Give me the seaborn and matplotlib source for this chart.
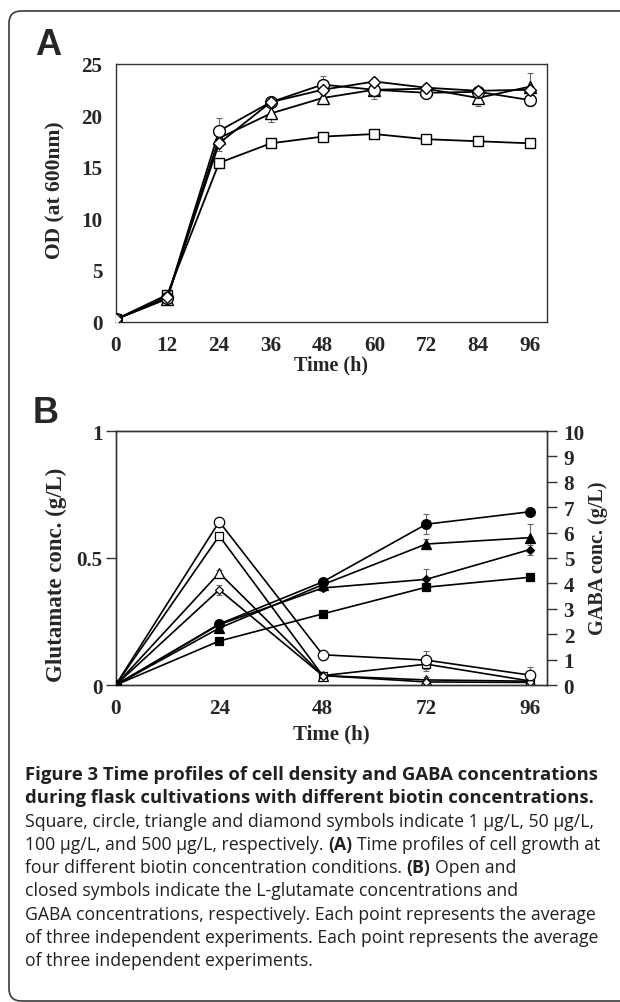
import numpy as np
import pandas as pd
import matplotlib
matplotlib.use("Agg")
import matplotlib.pyplot as plt
import seaborn as sns
from matplotlib.patches import FancyBboxPatch

# ---------------- data ----------------
time_a = [0, 12, 24, 36, 48, 60, 72, 84, 96]
od_square = [0.2, 2.6, 15.4, 17.3, 17.95, 18.2, 17.7, 17.5, 17.3]
od_circle = [0.2, 2.3, 18.5, 21.3, 23.0, 22.5, 22.2, 22.3, 21.5]
od_triangle = [0.2, 2.2, 17.8, 20.2, 21.7, 22.5, 22.6, 21.7, 22.8]
od_diamond = [0.2, 2.4, 17.3, 21.3, 22.5, 23.3, 22.7, 22.4, 22.5]
od_square_err = [0.1, 0.3, 0.4, 0.3, 0.3, 0.3, 0.3, 0.4, 0.3]
od_circle_err = [0.1, 0.6, 1.3, 0.5, 0.8, 0.3, 0.4, 0.3, 0.6]
od_triangle_err = [0.1, 0.5, 0.6, 0.8, 0.6, 0.9, 0.5, 0.8, 1.3]
od_diamond_err = [0.1, 0.4, 0.7, 0.5, 0.4, 0.3, 0.3, 0.3, 0.3]

time_b = [0, 24, 48, 72, 96]
glu_square = [0.0, 0.587, 0.037, 0.082, 0.016]
glu_circle = [0.0, 0.643, 0.119, 0.098, 0.039]
glu_triangle = [0.0, 0.441, 0.037, 0.02, 0.015]
glu_diamond = [0.0, 0.375, 0.037, 0.012, 0.01]
glu_square_err = [0.0, 0.01, 0.01, 0.025, 0.005]
glu_circle_err = [0.0, 0.005, 0.015, 0.035, 0.03]
glu_triangle_err = [0.0, 0.012, 0.01, 0.01, 0.005]
glu_diamond_err = [0.0, 0.02, 0.01, 0.008, 0.005]

gaba_square = [0.0, 1.73, 2.8, 3.85, 4.24]
gaba_circle = [0.0, 2.4, 4.06, 6.33, 6.82]
gaba_triangle = [0.0, 2.24, 3.95, 5.55, 5.8]
gaba_diamond = [0.0, 2.38, 3.82, 4.16, 5.33]
gaba_square_err = [0.0, 0.05, 0.08, 0.1, 0.08]
gaba_circle_err = [0.0, 0.08, 0.1, 0.4, 0.1]
gaba_triangle_err = [0.0, 0.08, 0.1, 0.2, 0.55]
gaba_diamond_err = [0.0, 0.08, 0.1, 0.4, 0.2]

xticks_a = [0, 12, 24, 36, 48, 60, 72, 84, 96]
yticks_a = [0, 5, 10, 15, 20, 25]
xticks_b = [0, 24, 48, 72, 96]
yticks_b_left = [0, 0.5, 1]
yticks_b_left_labels = ["0", "0.5", "1"]
yticks_b_right = list(range(0, 11))

caption_lines = [
    [("Figure 3 Time profiles of cell density and GABA concentrations", True)],
    [("during flask cultivations with different biotin concentrations.", True)],
    [("Square, circle, triangle and diamond symbols indicate 1 µg/L, 50 µg/L,", False)],
    [("100 µg/L, and 500 µg/L, respectively.", False), ("(A)", True),
     ("Time profiles of cell growth at", False)],
    [("four different biotin concentration conditions.", False), ("(B)", True),
     ("Open and", False)],
    [("closed symbols indicate the L-glutamate concentrations and", False)],
    [("GABA concentrations, respectively. Each point represents the average", False)],
    [("of three independent experiments. Each point represents the average", False)],
    [("of three independent experiments.", False)],
]

# ---------------- style ----------------
sns.set_theme(style="white")
plt.rcParams["font.family"] = ["Liberation Serif", "DejaVu Serif"]
plt.rcParams["font.weight"] = "bold"

W, H = 620, 1003
fig = plt.figure(figsize=(W / 100, H / 100), dpi=100)


def ax_rect(l, r, t, b):
    return [l / W, 1 - b / H, (r - l) / W, (b - t) / H]


SPINE = "#333333"
TICKFS = 15.2


def style_axes(ax):
    for s in ax.spines.values():
        s.set_color(SPINE)
        s.set_linewidth(1.0)
    ax.tick_params(direction="out", length=7, width=1.0, color=SPINE,
                   labelsize=TICKFS, pad=2.5)
    for lab in ax.get_xticklabels() + ax.get_yticklabels():
        lab.set_fontweight("bold")


# frame
frame = FancyBboxPatch((9 / W, 1 - 1002 / H), 700 / W, (1002 - 12) / H,
                       boxstyle="round,pad=0,rounding_size=0.02",
                       transform=fig.transFigure, fill=False,
                       edgecolor="#3a3a3a", linewidth=1.2, mutation_aspect=W / H)
fig.patches.append(frame)

# ---------------- panel A ----------------
axA = fig.add_axes(ax_rect(115.5, 547, 65, 322.5))
seriesA = [
    (od_square, od_square_err, "s", 7.5),
    (od_triangle, od_triangle_err, "^", 8.5),
    (od_circle, od_circle_err, "o", 8.5),
    (od_diamond, od_diamond_err, "D", 6.3),
]
for vals, err, mk, ms in seriesA:
    axA.errorbar(time_a, vals, yerr=err, fmt="none", ecolor="#666666",
                 elinewidth=0.8, capsize=2.5, capthick=0.8, zorder=2)
for vals, err, mk, ms in seriesA:
    sns.lineplot(x=time_a, y=vals, ax=axA, color="black", linewidth=1.3,
                 marker=mk, markersize=ms, markerfacecolor="white",
                 markeredgecolor="black", markeredgewidth=1.0, zorder=3)
axA.set_xlim(0, 100)
axA.set_ylim(0, 25)
axA.set_xticks(xticks_a)
axA.set_yticks(yticks_a)
style_axes(axA)
axA.set_xlabel("Time (h)", fontsize=14.5, fontweight="bold")
axA.set_ylabel("OD (at 600nm)", fontsize=15.5, fontweight="bold")
axA.xaxis.set_label_coords(0.5, -(365 - 322.5) / 257.5)
axA.xaxis.label.set_va("center")
axA.yaxis.set_label_coords((55 - 115.5) / 431.5, (322.5 - 190) / 257.5)
axA.yaxis.label.set_va("center")

# ---------------- panel B ----------------
axB = fig.add_axes(ax_rect(115.7, 547, 432, 686))
axB2 = axB.twinx()
closed = [
    (gaba_square, gaba_square_err, "s", 6.3),
    (gaba_triangle, gaba_triangle_err, "^", 6.5),
    (gaba_diamond, gaba_diamond_err, "D", 4.2),
    (gaba_circle, gaba_circle_err, "o", 7.0),
]
opened = [
    (glu_square, glu_square_err, "s", 6.3),
    (glu_triangle, glu_triangle_err, "^", 6.5),
    (glu_diamond, glu_diamond_err, "D", 4.5),
    (glu_circle, glu_circle_err, "o", 7.5),
]
for vals, err, mk, ms in opened:
    axB.errorbar(time_b, vals, yerr=err, fmt="none", ecolor="#666666",
                 elinewidth=0.8, capsize=2.5, capthick=0.8, zorder=2)
    sns.lineplot(x=time_b, y=vals, ax=axB, color="black", linewidth=1.2,
                 marker=mk, markersize=ms, markerfacecolor="white",
                 markeredgecolor="black", markeredgewidth=0.9, zorder=3)
for vals, err, mk, ms in closed:
    axB2.errorbar(time_b, vals, yerr=err, fmt="none", ecolor="#666666",
                  elinewidth=0.8, capsize=2.5, capthick=0.8, zorder=2)
    sns.lineplot(x=time_b, y=vals, ax=axB2, color="black", linewidth=1.2,
                 marker=mk, markersize=ms, markerfacecolor="black",
                 markeredgecolor="black", markeredgewidth=0.9, zorder=3)
axB.set_xlim(0, 100)
axB.set_ylim(0, 1)
axB2.set_ylim(0, 10)
axB.set_xticks(xticks_b)
axB.set_yticks(yticks_b_left)
axB.set_yticklabels(yticks_b_left_labels)
axB2.set_yticks(yticks_b_right)
style_axes(axB)
style_axes(axB2)
axB2.tick_params(axis="y", pad=5)
axB.set_xlabel("Time (h)", fontsize=15, fontweight="bold")
axB.set_ylabel("Glutamate conc. (g/L)", fontsize=16.5, fontweight="bold")
axB2.set_ylabel("GABA conc. (g/L)", fontsize=14.5, fontweight="bold")
axB.xaxis.set_label_coords(0.5, -(734 - 686) / 254)
axB.xaxis.label.set_va("center")
axB.yaxis.set_label_coords((56 - 115.7) / 431.3, (686 - 575) / 254)
axB.yaxis.label.set_va("center")
axB2.yaxis.set_label_coords((598 - 115.7) / 431.3, (686 - 558) / 254)
axB2.yaxis.label.set_va("center")
axB.grid(False)
axB2.grid(False)

# panel letters
fig.text(35 / W, 1 - 55 / H, "A", fontsize=26, fontweight="bold",
         family=["Liberation Sans", "DejaVu Sans"], va="baseline", ha="left")
fig.text(33 / W, 1 - 423 / H, "B", fontsize=26, fontweight="bold",
         family=["Liberation Sans", "DejaVu Sans"], va="baseline", ha="left")

# ---------------- caption ----------------
renderer = fig.canvas.get_renderer()
CAPFS = 12.7
CAPFS_BOLD = 13.3
CAPFAM = ["Open Sans", "DejaVu Sans"]
CAPCOL = "#231f20"


def width_of(s, bold, fs):
    t = fig.text(0, 0, s, fontsize=fs, family=CAPFAM,
                 fontweight="bold" if bold else "normal")
    w = t.get_window_extent(renderer).width
    t.remove()
    return w


space_w = width_of("a a", False, CAPFS) - width_of("aa", False, CAPFS)
base0 = 780
step = 23.3
for i, pieces in enumerate(caption_lines):
    x = 25
    y = base0 + i * step
    whole_bold = all(b for _, b in pieces)
    for j, (txt, bold) in enumerate(pieces):
        fs = CAPFS_BOLD if whole_bold else CAPFS
        t = fig.text(x / W, 1 - y / H, txt, fontsize=fs, family=CAPFAM,
                     fontweight="bold" if bold else "normal",
                     va="baseline", ha="left", color=CAPCOL)
        x += t.get_window_extent(renderer).width + space_w

fig.savefig("out.png", dpi=100)
